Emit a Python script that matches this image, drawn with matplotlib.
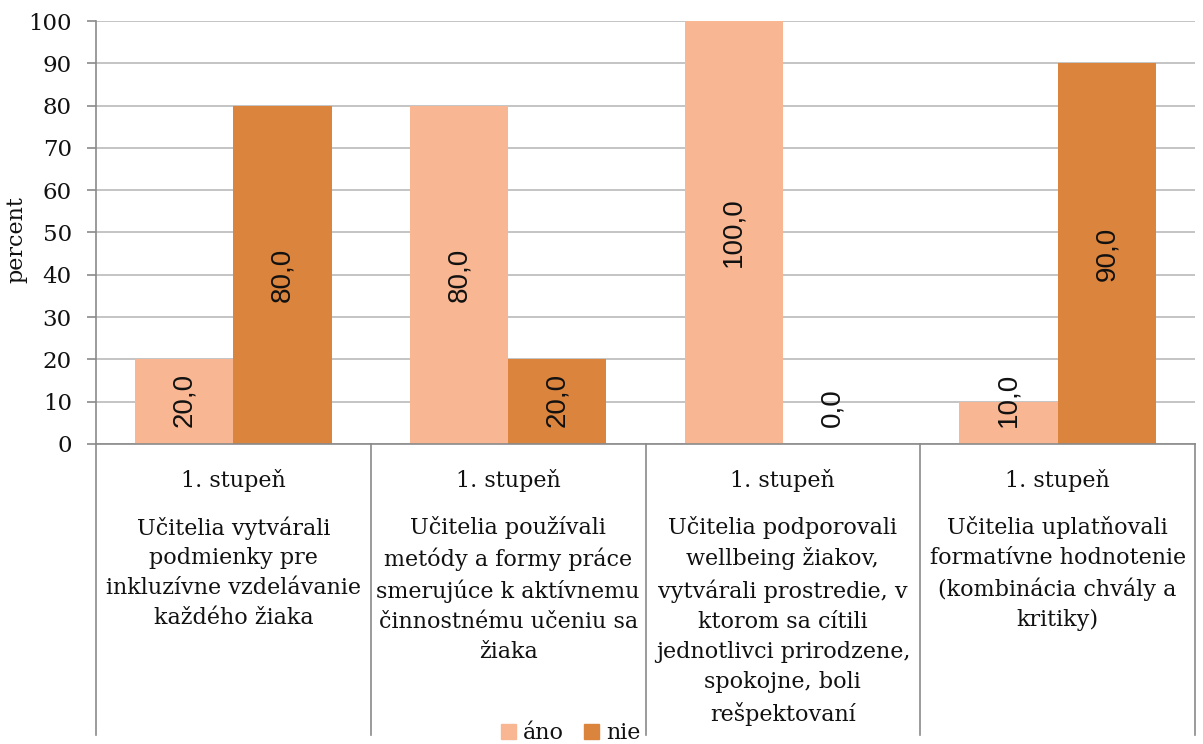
import matplotlib.pyplot as plt
import matplotlib.transforms as mtransforms
from matplotlib.patches import Patch
import numpy as np

# data
groups = ["1. stupeň"] * 4
items = [
    "Učitelia vytvárali\npodmienky pre\ninkluzívne vzdelávanie\nkaždého žiaka",
    "Učitelia používali\nmetódy a formy práce\nsmerujúce k aktívnemu\nčinnostnému učeniu sa\nžiaka",
    "Učitelia podporovali\nwellbeing žiakov,\nvytvárali prostredie, v\nktorom sa cítili\njednotlivci prirodzene,\nspokojne, boli\nrešpektovaní",
    "Učitelia uplatňovali\nformatívne hodnotenie\n(kombinácia chvály a\nkritiky)",
]
ano = [20.0, 80.0, 100.0, 10.0]
nie = [80.0, 20.0, 0.0, 90.0]

c_ano = "#F8B692"
c_nie = "#DB843D"
grid_c = "#C4C4C4"
axis_c = "#8A8A8A"
txt_c = "#111111"
serif = "DejaVu Serif"

W, H = 1203, 744
fig = plt.figure(figsize=(W / 100, H / 100), dpi=100)
# plot area in pixels: x 96..1195, y 21..444
x0, x1, y0, y1 = 96, 1195, 21, 444
ax = fig.add_axes([x0 / W, 1 - y1 / H, (x1 - x0) / W, (y1 - y0) / H])

x = np.arange(len(ano))
w = 0.358
b1 = ax.bar(x - w / 2, ano, w, color=c_ano, label="áno", zorder=2)
b2 = ax.bar(x + w / 2, nie, w, color=c_nie, label="nie", zorder=2)

# value labels: centred in the bar, but kept clear of the axis for short bars
for bars in (b1, b2):
    for r in bars:
        v = r.get_height()
        cx = r.get_x() + r.get_width() / 2
        label = f"{v:.1f}".replace(".", ",")
        if v > 20.5:
            ax.text(cx, v / 2, label, rotation=90, ha="center", va="center",
                    fontsize=20, family="Liberation Sans", color=txt_c, zorder=3)
        else:
            ax.annotate(label, (cx, 0), xytext=(0, 12), textcoords="offset points",
                        rotation=90, ha="center", va="bottom", zorder=3,
                        fontsize=20, family="Liberation Sans", color=txt_c)

ax.set_xlim(-0.5, len(ano) - 0.5)
ax.set_ylim(0, 100)
ax.set_yticks(range(0, 101, 10))
ax.set_xticks([])
ax.yaxis.grid(True, color=grid_c, lw=1.4)
ax.set_axisbelow(True)
for s in ("top", "right"):
    ax.spines[s].set_visible(False)
for s in ("left", "bottom"):
    ax.spines[s].set_color(axis_c)
    ax.spines[s].set_linewidth(1.2)
ax.tick_params(axis="y", length=6.5, color=axis_c, width=1.2, pad=11,
               labelsize=16.5, labelcolor=txt_c)
for t in ax.get_yticklabels():
    t.set_family(serif)
ax.set_ylabel("percent", family=serif, fontsize=16, color=txt_c)
ax.yaxis.set_label_coords((27 - x0) / (x1 - x0), (y1 - 240) / (y1 - y0))

# category axis: separators and two-level labels
trans = mtransforms.blended_transform_factory(ax.transData, ax.transAxes)
ybot = (y1 - 735) / (y1 - y0)
for b in np.arange(len(ano) + 1) - 0.5:
    ax.plot([b, b], [0, ybot], transform=trans, clip_on=False, color=axis_c, lw=1.2)

def ay(py):
    return (y1 - py) / (y1 - y0)

for i, (g, t) in enumerate(zip(groups, items)):
    ax.text(i, ay(480), g, transform=trans, ha="center", va="center",
            family=serif, fontsize=16, color=txt_c)
    ax.text(i, ay(516), t, transform=trans, ha="center", va="top",
            family=serif, fontsize=16, color=txt_c, linespacing=1.47,
            multialignment="center")

handles = [Patch(color=c_ano, label="áno"), Patch(color=c_nie, label="nie")]
fig.legend(handles=handles, loc="center", bbox_to_anchor=(571 / W, 1 - 733 / H),
           ncol=2, frameon=False, prop={"family": serif, "size": 16},
           handlelength=0.65, handleheight=0.65, handletextpad=0.35,
           columnspacing=0.9, labelcolor=txt_c)

fig.savefig("out.png", dpi=100)
